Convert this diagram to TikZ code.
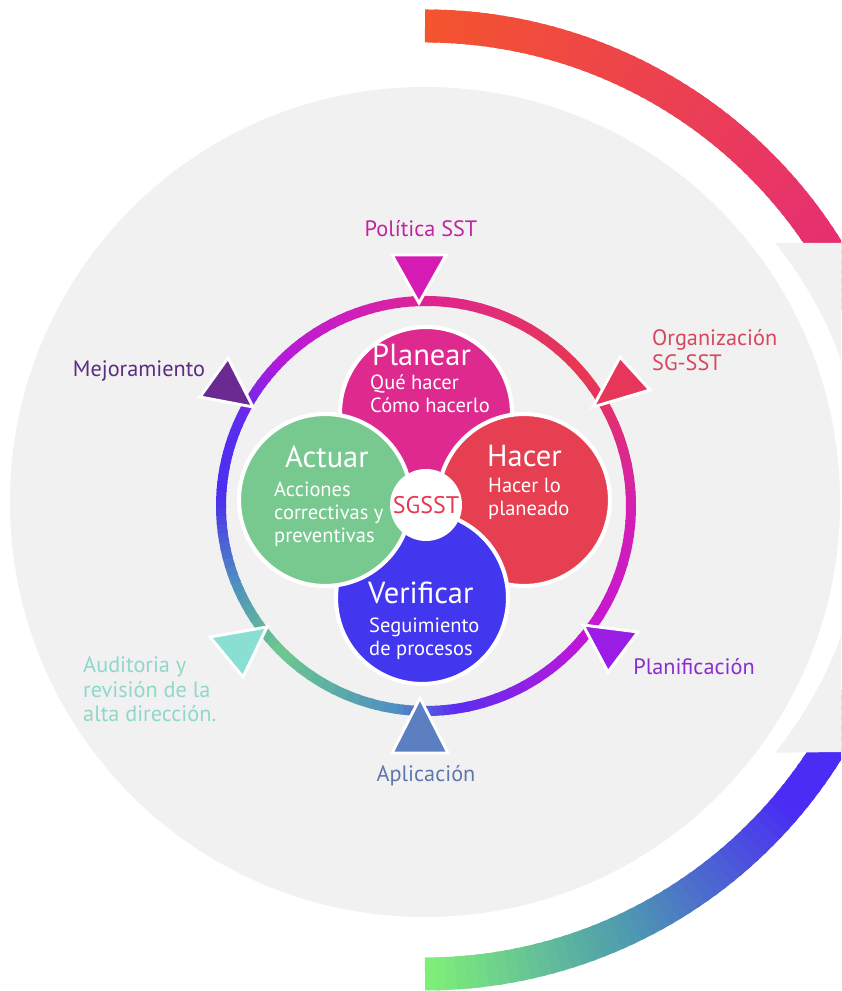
\documentclass[tikz,border=0pt]{standalone}
\usepackage{fontspec}
\setmainfont{PT Sans}
\definecolor{bggrey}{HTML}{F1F1F1}
\definecolor{outA}{HTML}{F4542E}
\definecolor{outB}{HTML}{E2287E}
\definecolor{outC}{HTML}{80F078}
\definecolor{outD}{HTML}{4E9AB0}
\definecolor{outE}{HTML}{4A2CF5}
\definecolor{ringA}{HTML}{DD2590}
\definecolor{ringB}{HTML}{E8384F}
\definecolor{ringC}{HTML}{D420B0}
\definecolor{ringD}{HTML}{C416D8}
\definecolor{ringE}{HTML}{5A2CF2}
\definecolor{ringF}{HTML}{4E8FC2}
\definecolor{ringG}{HTML}{6DC98C}
\definecolor{ringH}{HTML}{4F8FC0}
\definecolor{ringI}{HTML}{4A30EE}
\definecolor{ringJ}{HTML}{5A2CF0}
\definecolor{ringK}{HTML}{B41ADA}
\definecolor{ringL}{HTML}{D020B8}
\definecolor{planearc}{HTML}{DE2A8E}
\definecolor{hacerc}{HTML}{E63F51}
\definecolor{verificarc}{HTML}{4237EE}
\definecolor{actuarc}{HTML}{77C98F}
\definecolor{sgsstc}{HTML}{E8384F}
\definecolor{politicat}{HTML}{C0259F}
\definecolor{politicaf}{HTML}{D51BB3}
\definecolor{organizat}{HTML}{D6465F}
\definecolor{organizaf}{HTML}{E6375A}
\definecolor{mejorat}{HTML}{5B2C80}
\definecolor{mejoraf}{HTML}{6B2A92}
\definecolor{auditoriat}{HTML}{8FD8C9}
\definecolor{auditoriaf}{HTML}{88DFD2}
\definecolor{planificat}{HTML}{8A2DD0}
\definecolor{planificaf}{HTML}{9A1DE6}
\definecolor{aplicat}{HTML}{5E77AE}
\definecolor{aplicaf}{HTML}{5B7FC0}
\begin{document}
\begin{tikzpicture}
  [x=0.03cm,y=0.03cm,every node/.style={inner sep=0pt,font=\fontsize{19}{21.3}\selectfont}]
  \tikzstyle{petal} = [circle,draw=white,line width=3.5pt,minimum size=5.16cm]
  \tikzstyle{title} = [anchor=base west,text=white,font=\fontsize{26}{28}\selectfont]
  \tikzstyle{sub} = [anchor=north west,align=left,text=white,font=\fontsize{17.5}{19.6}\selectfont]
  \tikzstyle{label} = [anchor=base]
  \tikzstyle{tri} = [draw=white,line width=2.5pt]
  \tikzstyle{ringseg} = [line width=0.3cm]
  \tikzstyle{outseg} = [line width=0.99cm]

  \useasboundingbox (0,0) rectangle (841,991);
  \clip (0,0) rectangle (841,991);
  \fill[white] (0,0) rectangle (841,991);
  \fill[bggrey] (425,489) circle[radius=415];

  \coordinate (oc) at (425,491);
  \foreach \k in {0,...,69} {
    \pgfmathsetmacro\sa{90-\k}
    \pgfmathsetmacro\ea{\sa-1.5}
    \pgfmathtruncatemacro\pc{100-\k*100/69}
    \draw[outseg,color=outA!\pc!outB] (oc) ++(\sa:474) arc[start angle=\sa,end angle=\ea,radius=474];
  }
  \foreach \ta/\tb/\ca/\cb in {0/25/outC/outD,25/50/outD/outE,50/72/outE/outE} {
    \foreach \k in {0,...,19} {
      \pgfmathsetmacro\sa{-90+\ta+(\tb-\ta)*\k/20}
      \pgfmathsetmacro\ea{\sa+(\tb-\ta)/20+0.5}
      \pgfmathtruncatemacro\pc{98-5*\k}
      \draw[outseg,color=\ca!\pc!\cb] (oc) ++(\sa:474) arc[start angle=\sa,end angle=\ea,radius=474];
    }
  }
  \fill[bggrey] (841,748) -- (775,748) arc[start angle=39,end angle=-39,radius=405] -- (841,239) -- cycle;

  \coordinate (rc) at (426,485);
  \foreach \ta/\tb/\ca/\cb in {0/50/ringA/ringB,50/90/ringB/ringC,90/130/ringC/ringD,130/172/ringD/ringE,
      172/188/ringE/ringF,188/225/ringF/ringG,225/248/ringG/ringH,248/272/ringH/ringI,272/293/ringI/ringJ,
      293/315/ringJ/ringK,315/340/ringK/ringL,340/360/ringL/ringA} {
    \foreach \k in {0,...,9} {
      \pgfmathsetmacro\sa{90-\ta-(\tb-\ta)*\k/10}
      \pgfmathsetmacro\ea{\sa-(\tb-\ta)/10-0.6}
      \pgfmathtruncatemacro\pc{95-10*\k}
      \draw[ringseg,color=\ca!\pc!\cb] (rc) ++(\sa:205) arc[start angle=\sa,end angle=\ea,radius=205];
    }
  }

  \foreach \ax/\ay/\bx/\by/\cx/\cy/\col in {392/736/446/736/419/688/politicaf,
      620/634/650/601/593/584/organizaf, 228/633/200/594/253/584/mejoraf,
      210/354/267/364/243/314/auditoriaf, 583/366/638/359/608/319/planificaf,
      420/293/392/238/448/238/aplicaf}
    \filldraw[tri,fill=\col] (\ax,\ay) -- (\bx,\by) -- (\cx,\cy) -- cycle;

  \node[petal,fill=planearc] (planear) at (426,578) {};
  \node[petal,fill=hacerc] (hacer) at (524,491) {};
  \node[petal,fill=verificarc] (verificar) at (422,393) {};
  \node[petal,fill=actuarc] (actuar) at (325,491) {};
  \node[circle,fill=white,minimum size=2.16cm,text=sgsstc,font=\fontsize{20.5}{22}\selectfont] (sgsst) at (426,486) {SGSST};

  \node[title] (planearT) at (372,625) {Planear};
  \node[sub] (planearD) at (370,616) {Qué hacer\\Cómo hacerlo};
  \node[title] (actuarT) at (285,523) {Actuar};
  \node[sub] (actuarD) at (274,509) {Acciones\\correctivas y\\preventivas};
  \node[title] (hacerT) at (487,524) {Hacer};
  \node[sub] (hacerD) at (488,513) {Hacer lo\\planeado};
  \node[title] (verificarT) at (368,387) {Verificar};
  \node[sub] (verificarD) at (369,373) {Seguimiento\\de procesos};

  \node[label,text=politicat] (politica) at (421,754) {Política SST};
  \node[anchor=north west,align=left,text=organizat] (organiza) at (652,662) {Organización\\SG-SST};
  \node[label,text=mejorat] (mejora) at (139,614) {Mejoramiento};
  \node[anchor=north west,align=left,text=auditoriat] (auditoria) at (83,335) {Auditoria y\\revisión de la\\alta dirección.};
  \node[label,text=planificat] (planifica) at (694,316) {Planificación};
  \node[label,text=aplicat] (aplica) at (426,209) {Aplicación};
\end{tikzpicture}
\end{document}
